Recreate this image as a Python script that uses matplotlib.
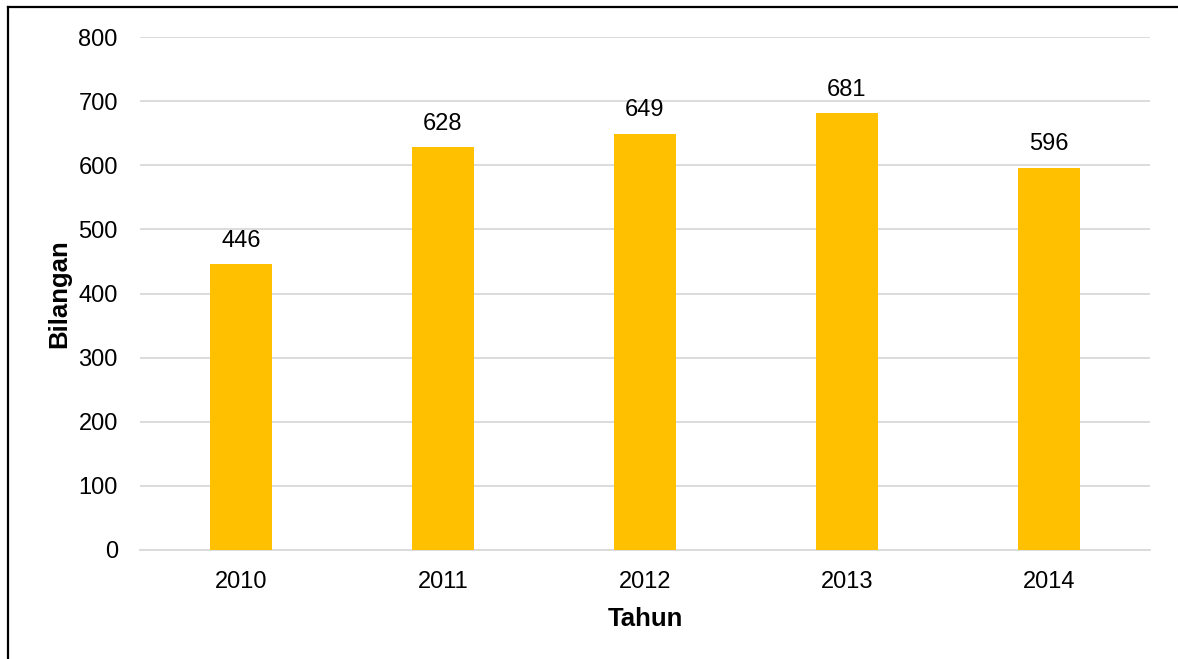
import matplotlib
matplotlib.use("Agg")
import matplotlib.pyplot as plt
from matplotlib.lines import Line2D

plt.rcParams['font.family'] = ['Liberation Sans', 'DejaVu Sans']

# data
years = ['2010', '2011', '2012', '2013', '2014']
counts = [446, 628, 649, 681, 596]

W, H = 1178, 659
fig = plt.figure(figsize=(W / 100, H / 100), dpi=100)
ax = fig.add_axes([140 / W, 1 - 550 / H, 1010 / W, 513 / H])

x = range(len(years))
ax.bar(x, counts, width=0.31, color='#FFC000', zorder=3)
for xi, v in zip(x, counts):
    ax.annotate(str(v), (xi, v), xytext=(0, 9), textcoords='offset points',
                ha='center', va='bottom', fontsize=17)

ax.set_xlim(-0.5, 4.5)
ax.set_ylim(0, 800)
ax.set_yticks(range(0, 801, 100))
ax.set_xticks(list(x))
ax.set_xticklabels(years)
ax.tick_params(axis='both', length=0, labelsize=17)
ax.tick_params(axis='y', pad=16)
ax.tick_params(axis='x', pad=15)
ax.grid(axis='y', color='#D9D9D9', linewidth=1.3, zorder=0)
for s in ['top', 'right', 'left']:
    ax.spines[s].set_visible(False)
ax.spines['bottom'].set_color('#D9D9D9')
ax.spines['bottom'].set_linewidth(1.3)

ax.set_xlabel('Tahun', fontsize=18.5, fontweight='bold', labelpad=10)
ax.set_ylabel('Bilangan', fontsize=18.5, fontweight='bold', labelpad=5)

# outer frame (only top and left edges show in the crop)
fig.add_artist(Line2D([8 / W, 1], [1 - 7 / H, 1 - 7 / H], transform=fig.transFigure,
                      color='black', linewidth=1.6))
fig.add_artist(Line2D([8 / W, 8 / W], [0, 1 - 7 / H], transform=fig.transFigure,
                      color='black', linewidth=1.6))

fig.savefig('out.png', dpi=100)
